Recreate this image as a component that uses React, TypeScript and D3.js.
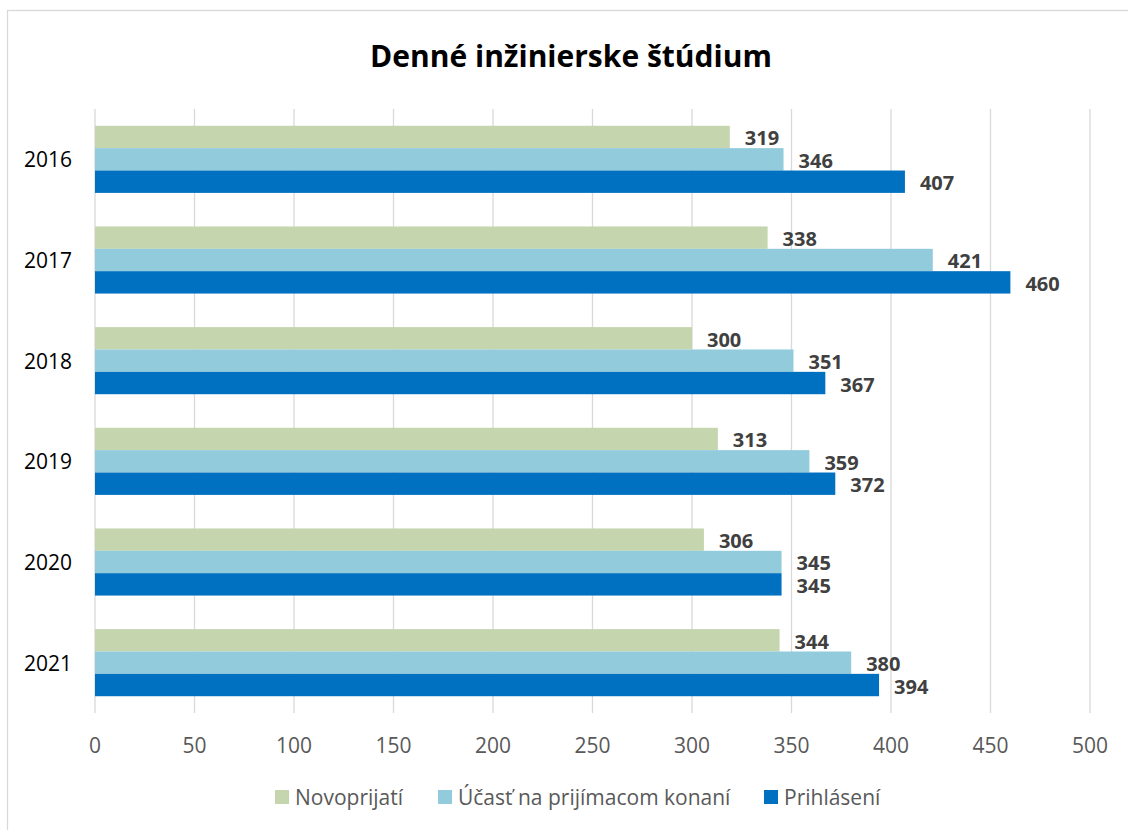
import * as d3 from 'd3'

const years = ['2016', '2017', '2018', '2019', '2020', '2021']
const seriesNames = ['Novoprijatí', 'Účasť na prijímacom konaní', 'Prihlásení']
const novoprijati = [319, 338, 300, 313, 306, 344]
const ucast = [346, 421, 351, 359, 345, 380]
const prihlaseni = [407, 460, 367, 372, 345, 394]
const xTicks = [0, 50, 100, 150, 200, 250, 300, 350, 400, 450, 500]

const colors = ['#c5d6ae', '#92cbdc', '#0070c0']
const FONT = '"Open Sans", "Noto Sans", sans-serif'

export default function App() {
  const width = 1128
  const height = 830
  const values = [novoprijati, ucast, prihlaseni]

  const x = d3.scaleLinear().domain([0, 500]).range([95, 1090])
  const y = d3.scaleBand<string>()
    .domain(years)
    .range([109, 713])
    .paddingInner(1 / 3)
    .paddingOuter(1 / 6)
  const inner = d3.scaleBand<string>()
    .domain(seriesNames)
    .range([0, y.bandwidth()])

  const legendX = [275, 438, 764]

  return (
    <svg
      width={width}
      height={height}
      style={{ position: 'absolute', left: 0, top: 0, display: 'block', background: '#fff' }}
      fontFamily={FONT}
    >
      <rect x={7.5} y={10.5} width={width + 10} height={height + 10} fill="#fff" stroke="#d9d9d9" strokeWidth={1.3} />

      <text x={571} y={67} textAnchor="middle" fontSize={30} fontWeight="bold" fill="#000">
        Denné inžinierske štúdium
      </text>

      {/* grid */}
      {xTicks.map(t => (
        <line key={t} x1={x(t)} x2={x(t)} y1={109} y2={713} stroke="#d9d9d9" strokeWidth={1.3} />
      ))}
      {xTicks.map(t => (
        <text key={'l' + t} x={x(t)} y={753} textAnchor="middle" fontSize={21} fill="#595959">
          {t}
        </text>
      ))}

      {/* bars */}
      {years.map((yr, i) => (
        <g key={yr} transform={`translate(0,${y(yr)})`}>
          <text x={72} y={y.bandwidth() / 2} textAnchor="end" dominantBaseline="central" fontSize={21} fill="#000">
            {yr}
          </text>
          {seriesNames.map((s, j) => (
            <g key={s}>
              <rect
                x={x(0)}
                y={inner(s)}
                width={x(values[j][i]) - x(0)}
                height={inner.bandwidth()}
                fill={colors[j]}
              />
              <text
                x={x(values[j][i]) + 15}
                y={(inner(s) ?? 0) + inner.bandwidth() / 2 + 1}
                dominantBaseline="central"
                fontSize={20}
                fontWeight="bold"
                fill="#404040"
              >
                {values[j][i]}
              </text>
            </g>
          ))}
        </g>
      ))}

      {/* legend */}
      {seriesNames.map((s, j) => (
        <g key={s} transform={`translate(${legendX[j]},790)`}>
          <rect x={0} y={0} width={14} height={14} fill={colors[j]} />
          <text x={20} y={15} fontSize={21} fill="#595959">
            {s}
          </text>
        </g>
      ))}
    </svg>
  )
}
